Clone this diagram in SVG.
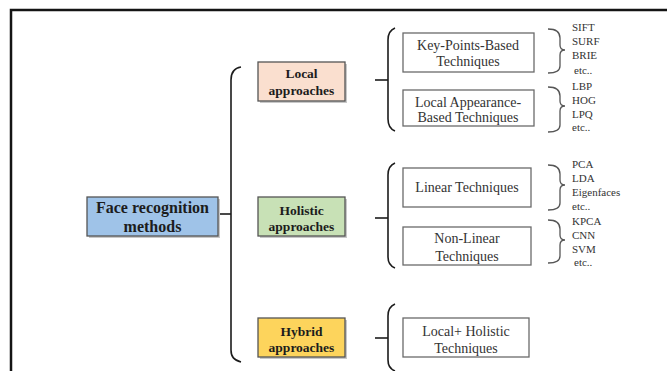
<svg xmlns="http://www.w3.org/2000/svg" width="667" height="371" viewBox="0 0 667 371">
<style>
.bg{fill:#ffffff}
.frame{fill:none;stroke:#141414;stroke-width:2.5}
.cbox{stroke:#555;stroke-width:1.3}
.tbox{fill:#fff;stroke:#6a6a6a;stroke-width:1.3}
.shadow{fill:#c8c8c8}
.big{font-family:"Liberation Serif","Times New Roman",serif;font-weight:bold;font-size:16px;fill:#1c1c1c;text-anchor:middle}
.mid{font-family:"Liberation Serif","Times New Roman",serif;font-weight:bold;font-size:13.5px;fill:#1c1c1c;text-anchor:middle}
.tech{font-family:"Liberation Serif","Times New Roman",serif;font-size:14px;fill:#333;text-anchor:middle}
.sm{font-family:"Liberation Serif","Times New Roman",serif;font-size:11px;fill:#333}
.brace{fill:none;stroke:#1c1c1c;stroke-width:1.6}
.rbrace{fill:none;stroke:#555;stroke-width:1.3}
</style>
<rect class="bg" x="0" y="0" width="667" height="371"/>
<path class="frame" d="M11,372 V10 H668"/>

<g id="connectors">
  <path class="brace" d="M241,67 C234,68 231,72 231,80 L231,350 C231,357 234,360 241,362"/>
  <path class="brace" d="M218,214 H231"/>
  <path class="brace" d="M395,28 C390,30 388,34 388,40 L388,119 C388,125 390,129 395,131"/>
  <path class="brace" d="M375,80 H388"/>
  <path class="brace" d="M395,163 C390,165 388,169 388,175 L388,257 C388,263 390,266 395,268"/>
  <path class="brace" d="M375,218 H388"/>
  <path class="brace" d="M395,304 C390,306 388,310 388,316 L388,360 C388,366 390,369 395,371"/>
  <path class="brace" d="M375,338 H388"/>
  <path class="rbrace" d="M548,29 C556,29 560,32 560,38 L560,45 C560,48 562,50 565,50 C562,50 560,52 560,55 L560,66 C560,71 556,73 548,73"/>
  <path class="rbrace" d="M548,87 C556,87 560,90 560,96 L560,101 C560,104 562,106 565,106 C562,106 560,108 560,111 L560,125 C560,130 556,132 548,132"/>
  <path class="rbrace" d="M548,165 C556,165 560,168 560,174 L560,180 C560,183 562,185 565,185 C562,185 560,187 560,190 L560,203 C560,208 556,210 548,210"/>
  <path class="rbrace" d="M548,220 C556,220 560,223 560,229 L560,235 C560,238 562,240 565,240 C562,240 560,242 560,245 L560,256 C560,261 556,263 548,263"/>
</g>

<g id="face">
  <rect class="shadow" x="89" y="199" width="131" height="39"/>
  <rect class="cbox" x="87" y="197" width="131" height="39" fill="#9fc3e8"/>
  <text class="big" x="152.5" y="212.5">Face recognition</text>
  <text class="big" x="152.5" y="232">methods</text>
</g>

<g id="local">
  <rect class="shadow" x="260" y="64" width="87" height="39"/>
  <rect class="cbox" x="258" y="62" width="87" height="39" fill="#fadfcf"/>
  <text class="mid" x="301.5" y="78">Local</text>
  <text class="mid" x="301.5" y="95">approaches</text>
</g>

<g id="holistic">
  <rect class="shadow" x="260" y="199" width="87" height="39"/>
  <rect class="cbox" x="258" y="197" width="87" height="39" fill="#c8e1b6"/>
  <text class="mid" x="301.5" y="215">Holistic</text>
  <text class="mid" x="301.5" y="231">approaches</text>
</g>

<g id="hybrid">
  <rect class="shadow" x="260" y="320" width="87" height="39"/>
  <rect class="cbox" x="258" y="318" width="87" height="39" fill="#fdd45c"/>
  <text class="mid" x="301.5" y="336">Hybrid</text>
  <text class="mid" x="301.5" y="352">approaches</text>
</g>

<g id="keypoints">
  <rect class="tbox" x="403" y="33" width="131" height="39"/>
  <text class="tech" x="468" y="50">Key-Points-Based</text>
  <text class="tech" x="468" y="66">Techniques</text>
</g>

<g id="localappearance">
  <rect class="tbox" x="403" y="90" width="131" height="36"/>
  <text class="tech" x="468" y="107">Local Appearance-</text>
  <text class="tech" x="468" y="122">Based Techniques</text>
</g>

<g id="linear">
  <rect class="tbox" x="403" y="168" width="128" height="39"/>
  <text class="tech" x="467" y="192">Linear Techniques</text>
</g>

<g id="nonlinear">
  <rect class="tbox" x="403" y="227" width="128" height="38"/>
  <text class="tech" x="467" y="243">Non-Linear</text>
  <text class="tech" x="467" y="261">Techniques</text>
</g>

<g id="localholistic">
  <rect class="tbox" x="403" y="318" width="126" height="39"/>
  <text class="tech" x="466" y="336">Local+ Holistic</text>
  <text class="tech" x="466" y="353">Techniques</text>
</g>

<g id="keypoints-list">
  <text class="sm" x="572" y="31">SIFT</text>
  <text class="sm" x="572" y="45">SURF</text>
  <text class="sm" x="572" y="59">BRIE</text>
  <text class="sm" x="574" y="74">etc..</text>
</g>
<g id="appearance-list">
  <text class="sm" x="572" y="90">LBP</text>
  <text class="sm" x="572" y="104">HOG</text>
  <text class="sm" x="572" y="118">LPQ</text>
  <text class="sm" x="572" y="131">etc..</text>
</g>
<g id="linear-list">
  <text class="sm" x="572" y="168">PCA</text>
  <text class="sm" x="572" y="182">LDA</text>
  <text class="sm" x="572" y="196">Eigenfaces</text>
  <text class="sm" x="572" y="210">etc..</text>
</g>
<g id="nonlinear-list">
  <text class="sm" x="572" y="225">KPCA</text>
  <text class="sm" x="572" y="239">CNN</text>
  <text class="sm" x="572" y="253">SVM</text>
  <text class="sm" x="574" y="266">etc..</text>
</g>
</svg>
